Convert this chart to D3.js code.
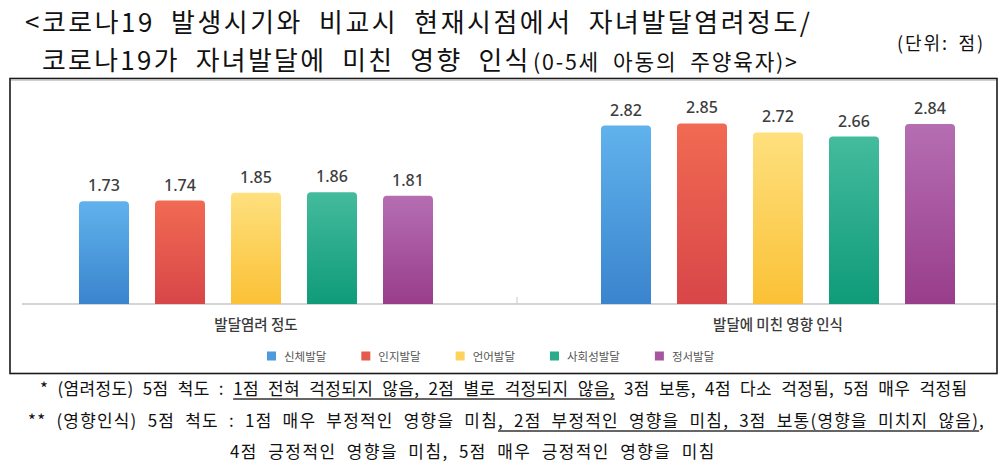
<!DOCTYPE html>
<html><head><meta charset="utf-8">
<script src="https://cdn.jsdelivr.net/npm/d3@7"></script>
<style>
html,body{margin:0;padding:0;background:#fff;}
svg{display:block;}
</style></head>
<body>
<svg id="c" width="1005" height="471"></svg>
<script>
// ---- data ----
const groups = ["발달염려 정도", "발달에 미친 영향 인식"];
const series = ["신체발달", "인지발달", "언어발달", "사회성발달", "정서발달"];
const worryValues = [1.73, 1.74, 1.85, 1.86, 1.81];
const impactValues = [2.82, 2.85, 2.72, 2.66, 2.84];
const groupValues = [worryValues, impactValues];

const titleLine1 = "<코로나19 발생시기와 비교시 현재시점에서 자녀발달염려정도/";
const titleLine2a = "코로나19가 자녀발달에 미친 영향 인식";
const titleLine2b = "(0-5세 아동의 주양육자)>";
const unitText = "(단위: 점)";
const note1 = "* (염려정도) 5점 척도 : 1점 전혀 걱정되지 않음, 2점 별로 걱정되지 않음, 3점 보통, 4점 다소 걱정됨, 5점 매우 걱정됨";
const note2 = "** (영향인식) 5점 척도 : 1점 매우 부정적인 영향을 미침, 2점 부정적인 영향을 미침, 3점 보통(영향을 미치지 않음),";
const note3 = "4점 긍정적인 영향을 미침, 5점 매우 긍정적인 영향을 미침";

// ---- styles ----
const topColors = ["#60b2ec", "#f16a52", "#fee07e", "#44bb9d", "#b56eb2"];
const bottomColors = ["#3a84cd", "#d84649", "#fbc136", "#0f9b79", "#993d8b"];
const legendColors = ["#4d9bdc", "#e45a4e", "#fdd35c", "#2aab8b", "#a8559f"];
const KFONT = "'Noto Sans CJK KR','Noto Sans',sans-serif";

const svg = d3.select("#c");
const defs = svg.append("defs");
series.forEach((s, i) => {
  const g = defs.append("linearGradient").attr("id", "g" + i)
    .attr("x1", 0).attr("y1", 0).attr("x2", 0).attr("y2", 1);
  g.append("stop").attr("offset", "0%").attr("stop-color", topColors[i]);
  g.append("stop").attr("offset", "100%").attr("stop-color", bottomColors[i]);
});

// helper: text fitted to a width: fixed word spacing, letter spacing fills the rest
function fitText(parent, str, x, y, width, size, wsEm) {
  const g = parent.append("g");
  const t = g.append("text").attr("x", 0).attr("y", 0)
    .style("font-family", KFONT).style("font-size", size + "px")
    .style("word-spacing", (wsEm * size) + "px")
    .attr("fill", "#111").text(str);
  const w0 = t.node().getComputedTextLength();
  const nChars = str.length - 1;
  if (width > w0) t.style("letter-spacing", ((width - w0) / nChars) + "px");
  const w1 = t.node().getComputedTextLength();
  const sx = width / w1;
  g.attr("transform", `translate(${x},${y}) scale(${sx},1)`);
  return {g, t};
}
function underline(obj, str, fromSub, toSub, dy) {
  const node = obj.t.node();
  const a = str.indexOf(fromSub);
  const b = str.indexOf(toSub) + toSub.length - 1;
  const xa = node.getStartPositionOfChar(a).x;
  const xb = node.getEndPositionOfChar(b).x;
  obj.g.append("line").attr("x1", xa).attr("x2", xb).attr("y1", dy).attr("y2", dy)
    .attr("stroke", "#333").attr("stroke-width", 1.3);
}

// ---- titles ----
fitText(svg, titleLine1, 25, 32, 788, 26, 0.3);
fitText(svg, titleLine2a, 42, 70, 489, 26, 0.3);
fitText(svg, titleLine2b, 533, 70, 266, 21.5, 0.3);
fitText(svg, unitText, 897, 50, 88, 18.5, 0.2);

// ---- chart frame ----
svg.append("rect").attr("x", 10).attr("y", 78.5).attr("width", 987).attr("height", 295)
  .attr("fill", "#fff").attr("stroke", "#1a1a1a").attr("stroke-width", 1.6);
svg.append("line").attr("x1", 11).attr("x2", 996).attr("y1", 80.5).attr("y2", 80.5)
  .attr("stroke", "#cfcfcf").attr("stroke-width", 1);

// ---- scales ----
const x0 = d3.scaleBand().domain(groups).range([-5, 1039]).padding(0);
const x1 = d3.scaleBand().domain(series).range([-190, 190])
  .paddingInner(26 / 76).paddingOuter(13 / 76);
const y = d3.scaleLinear().domain([0.25, 3]).range([304, 113]);

const chart = svg.append("g");

// baseline
chart.append("line").attr("x1", 22).attr("x2", 996).attr("y1", y(0.25)).attr("y2", y(0.25))
  .attr("stroke", "#a9a9a9").attr("stroke-width", 1.2);
chart.append("line").attr("x1", x0(groups[1])).attr("x2", x0(groups[1]))
  .attr("y1", y(0.25) - 7).attr("y2", y(0.25)).attr("stroke", "#c8c8c8").attr("stroke-width", 1);

const barData = [];
groups.forEach((gName, gi) => {
  series.forEach((s, si) => {
    barData.push({group: gName, series: s, si, value: groupValues[gi][si]});
  });
});
const cx = d => x0(d.group) + x0.bandwidth() / 2 + x1(d.series);
const r = 4;
function barPath(d) {
  const xl = cx(d), w = x1.bandwidth(), yt = y(d.value), yb = y(0.25);
  return `M${xl},${yb}V${yt + r}Q${xl},${yt} ${xl + r},${yt}H${xl + w - r}Q${xl + w},${yt} ${xl + w},${yt + r}V${yb}Z`;
}
chart.selectAll("path.bar").data(barData).join("path").attr("class", "bar")
  .attr("d", barPath).attr("fill", d => `url(#g${d.si})`);

chart.selectAll("text.val").data(barData).join("text").attr("class", "val")
  .attr("x", d => cx(d) + x1.bandwidth() / 2).attr("y", d => y(d.value) - 10)
  .attr("text-anchor", "middle")
  .style("font-family", "'Noto Sans',sans-serif").style("font-size", "16px").style("font-weight", 500)
  .attr("fill", "#3d3d3d").text(d => d.value.toFixed(2));

// category labels
chart.selectAll("text.cat").data(groups).join("text").attr("class", "cat")
  .attr("x", d => x0(d) + x0.bandwidth() / 2).attr("y", 330)
  .attr("text-anchor", "middle").style("font-family", KFONT).style("font-size", "14.5px")
  .style("font-weight", 500).attr("fill", "#3a3a3a").text(d => d);

// legend
const leg = chart.append("g");
let lx = 267;
series.forEach((s, i) => {
  leg.append("rect").attr("x", lx).attr("y", 351.5).attr("width", 9).attr("height", 9)
    .attr("fill", legendColors[i]);
  const t = leg.append("text").attr("x", lx + 17).attr("y", 360.5)
    .style("font-family", KFONT).style("font-size", "11.5px").attr("fill", "#555").text(s);
  lx += 17 + t.node().getComputedTextLength() + 35;
});

// ---- footnotes ----
const n1 = fitText(svg, note1, 40, 395, 928, 17, 0.3);
underline(n1, note1, "1점 전혀", "별로 걱정되지 않음,", 4);
const n2 = fitText(svg, note2, 28, 427, 958, 17, 0.3);
underline(n2, note2, ", 2점", "미치지 않음)", 4);
fitText(svg, note3, 230, 458, 486, 17, 0.3);
</script>
</body></html>
